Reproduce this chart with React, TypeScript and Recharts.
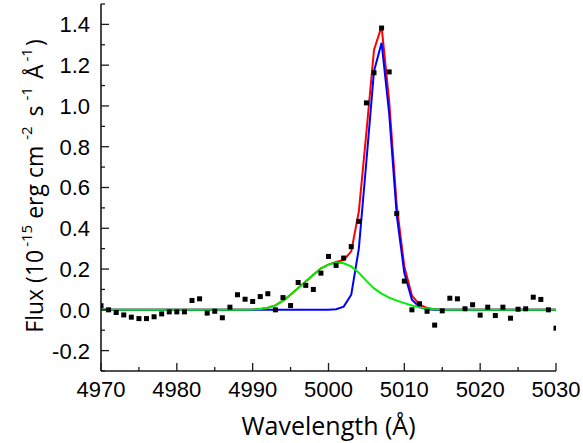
import { ComposedChart, Line, Scatter, XAxis, YAxis } from "recharts";

// Wavelength grid (Å) and values, flux in 1e-15 erg cm^-2 s^-1 Å^-1
const WAVELENGTH = [
  4970, 4971, 4972, 4973, 4974, 4975, 4976, 4977, 4978, 4979,
  4980, 4981, 4982, 4983, 4984, 4985, 4986, 4987, 4988, 4989,
  4990, 4991, 4992, 4993, 4994, 4995, 4996, 4997, 4998, 4999,
  5000, 5001, 5002, 5003, 5004, 5005, 5006, 5007, 5008, 5009,
  5010, 5011, 5012, 5013, 5014, 5015, 5016, 5017, 5018, 5019,
  5020, 5021, 5022, 5023, 5024, 5025, 5026, 5027, 5028, 5029,
  5030,
];

const OBSERVED = [
  0.02, 0.0, -0.013, -0.025, -0.036, -0.043, -0.043, -0.034, -0.02, -0.01,
  -0.01, -0.01, 0.046, 0.054, -0.016, -0.007, -0.039, 0.013, 0.074, 0.052,
  0.041, 0.065, 0.079, 0.0, 0.06, 0.021, 0.134, 0.12, 0.1, 0.18,
  0.262, 0.218, 0.254, 0.31, 0.434, 1.015, 1.163, 1.382, 1.167, 0.472,
  0.141, 0.0, 0.03, -0.007, -0.075, -0.005, 0.057, 0.054, 0.005, 0.025,
  -0.026, 0.013, -0.028, 0.013, -0.041, 0.003, 0.005, 0.062, 0.051, 0.0,
  -0.09,
];

// broad component (green)
const BROAD = [
  0, 0, 0, 0, 0, 0, 0, 0, 0, 0,
  0, 0, 0, 0, 0, 0, 0, 0, 0, 0.001,
  0.002, 0.004, 0.01, 0.022, 0.045, 0.074, 0.107, 0.139, 0.172, 0.203,
  0.222, 0.232, 0.228, 0.213, 0.182, 0.142, 0.105, 0.08, 0.06, 0.045,
  0.033, 0.021, 0.012, 0.006, 0.003, 0.001, 0, 0, 0, 0,
  0, 0, 0, 0, 0, 0, 0, 0, 0, 0,
  0,
];

// narrow component (blue)
const NARROW = [
  0, 0, 0, 0, 0, 0, 0, 0, 0, 0,
  0, 0, 0, 0, 0, 0, 0, 0, 0, 0,
  0, 0, 0, 0, 0, 0, 0, 0, 0, 0,
  0, 0.003, 0.016, 0.074, 0.3, 0.73, 1.17, 1.31, 0.963, 0.465,
  0.18, 0.049, 0.013, 0.003, 0, 0, 0, 0, 0, 0,
  0, 0, 0, 0, 0, 0, 0, 0, 0, 0,
  0,
];

// total fit (red)
const TOTAL = [
  0, 0, 0, 0, 0, 0, 0, 0, 0, 0,
  0, 0, 0, 0, 0, 0, 0, 0, 0, 0.001,
  0.002, 0.004, 0.01, 0.022, 0.045, 0.074, 0.107, 0.139, 0.172, 0.203,
  0.222, 0.235, 0.244, 0.287, 0.482, 0.872, 1.275, 1.39, 1.023, 0.51,
  0.213, 0.07, 0.025, 0.009, 0.003, 0.001, 0, 0, 0, 0,
  0, 0, 0, 0, 0, 0, 0, 0, 0, 0,
  0,
];

const X_TICKS = [4970, 4975, 4980, 4985, 4990, 4995, 5000, 5005, 5010, 5015, 5020, 5025, 5030];
const X_LABELED = [4970, 4980, 4990, 5000, 5010, 5020, 5030];
const Y_TICKS = [
  -0.3, -0.2, -0.1, 0, 0.1, 0.2, 0.3, 0.4, 0.5, 0.6, 0.7, 0.8, 0.9, 1.0, 1.1, 1.2, 1.3, 1.4, 1.5,
];

const TICK_FONT = "'Liberation Sans', Arial, sans-serif";
const TITLE_FONT = "'Open Sans', 'Noto Sans', sans-serif";
const FRAME = "#1a1a1a";

const rows = WAVELENGTH.map((x, i) => ({
  x,
  obs: OBSERVED[i],
  broad: BROAD[i],
  narrow: NARROW[i],
  total: TOTAL[i],
}));

const isMajorY = (v: number) => Math.abs(Math.round(v * 10)) % 2 === 0;

function BottomTick(props: any) {
  const { x, y, payload } = props;
  const major = X_LABELED.includes(payload.value);
  return (
    <g>
      <line x1={x} x2={x} y1={y} y2={y - (major ? 8 : 4)} stroke={FRAME} strokeWidth={1.3} />
      {major && (
        <text x={x} y={y + 26} textAnchor="middle" fontFamily={TICK_FONT} fontSize={22} fill="#000">
          {payload.value}
        </text>
      )}
    </g>
  );
}

function TopTick(props: any) {
  const { x, y, payload } = props;
  const major = X_LABELED.includes(payload.value);
  return <line x1={x} x2={x} y1={y} y2={y + (major ? 8 : 4)} stroke={FRAME} strokeWidth={1.3} />;
}

function LeftTick(props: any) {
  const { x, y, payload } = props;
  const major = isMajorY(payload.value);
  return (
    <g>
      <line x1={x} x2={x + (major ? 8 : 4)} y1={y} y2={y} stroke={FRAME} strokeWidth={1.3} />
      {major && (
        <text x={x - 11} y={y} dy="0.36em" textAnchor="end" fontFamily={TICK_FONT} fontSize={22} fill="#000">
          {payload.value.toFixed(1)}
        </text>
      )}
    </g>
  );
}

function RightTick(props: any) {
  const { x, y, payload } = props;
  const major = isMajorY(payload.value);
  return <line x1={x} x2={x - (major ? 8 : 4)} y1={y} y2={y} stroke={FRAME} strokeWidth={1.3} />;
}

function SquareDot(props: any) {
  const { cx, cy } = props;
  if (cx == null || cy == null) return null;
  return <rect x={cx - 2.5} y={cy - 2.5} width={5} height={5} fill="#000" />;
}

function FluxLabel() {
  const sup = { fontSize: 15 };
  return (
    <text
      transform="rotate(-90)"
      x={-186}
      y={43}
      textAnchor="middle"
      fontFamily={TITLE_FONT}
      fontSize={23}
      fill="#000"
    >
      Flux (10
      <tspan dy={-11} dx={3} {...sup}>-15</tspan>
      <tspan dy={11}> erg cm</tspan>
      <tspan dy={-11} dx={6} {...sup}>-2</tspan>
      <tspan dy={11} dx={4}> s</tspan>
      <tspan dy={-11} dx={5} {...sup}>-1</tspan>
      <tspan dy={11} dx={2}> Å</tspan>
      <tspan dy={-11} dx={3} {...sup}>-1</tspan>
      <tspan dy={11} dx={2}>)</tspan>
    </text>
  );
}

export default function App() {
  return (
    <div style={{ position: "absolute", left: 0, top: 0, background: "#fff" }}>
      <ComposedChart width={583} height={443} data={rows} margin={{ top: 4, right: 27, bottom: 0, left: 0 }}>
        <XAxis
          dataKey="x"
          type="number"
          domain={[4970, 5030]}
          ticks={X_TICKS}
          allowDataOverflow
          height={72}
          tickSize={0}
          tickMargin={0}
          tickLine={false}
          interval={0}
          axisLine={{ stroke: FRAME, strokeWidth: 1.6 }}
          tick={<BottomTick />}
          label={{
            value: "Wavelength (Å)",
            position: "insideBottom",
            offset: 8,
            fill: "#000",
            fontSize: 25,
            fontFamily: TITLE_FONT,
          }}
        />
        <XAxis
          xAxisId="top"
          orientation="top"
          dataKey="x"
          type="number"
          domain={[4970, 5030]}
          ticks={X_TICKS}
          allowDataOverflow
          height={0}
          tickSize={0}
          tickMargin={0}
          tickLine={false}
          interval={0}
          axisLine={{ stroke: FRAME, strokeWidth: 1.6 }}
          tick={<TopTick />}
        />
        <YAxis
          type="number"
          domain={[-0.3, 1.5]}
          ticks={Y_TICKS}
          allowDataOverflow
          width={101}
          tickSize={0}
          tickMargin={0}
          tickLine={false}
          interval={0}
          axisLine={{ stroke: FRAME, strokeWidth: 1.6 }}
          tick={<LeftTick />}
          label={{ content: () => <FluxLabel /> }}
        />
        <YAxis
          yAxisId="right"
          orientation="right"
          type="number"
          domain={[-0.3, 1.5]}
          ticks={Y_TICKS}
          allowDataOverflow
          width={0}
          tickSize={0}
          tickMargin={0}
          tickLine={false}
          interval={0}
          axisLine={{ stroke: FRAME, strokeWidth: 1.6 }}
          tick={<RightTick />}
        />
        <Line dataKey="total" stroke="#ff0000" strokeWidth={2} dot={false} isAnimationActive={false} />
        <Line dataKey="narrow" stroke="#0000ff" strokeWidth={2} dot={false} isAnimationActive={false} />
        <Line dataKey="broad" stroke="#00ee00" strokeWidth={2} dot={false} isAnimationActive={false} />
        <Scatter dataKey="obs" shape={<SquareDot />} isAnimationActive={false} />
      </ComposedChart>
    </div>
  );
}
